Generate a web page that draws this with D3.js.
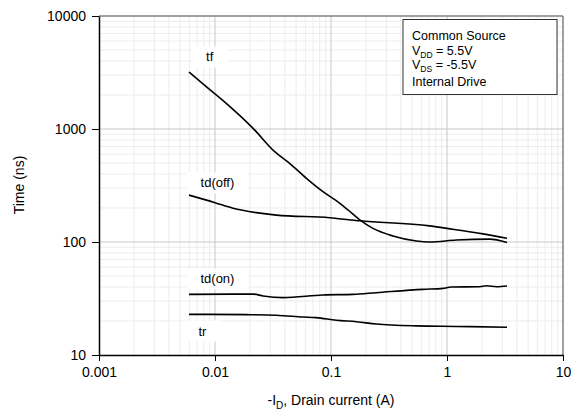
<!DOCTYPE html>
<html><head><meta charset="utf-8">
<script src="https://cdn.jsdelivr.net/npm/d3@7"></script>
<style>body{margin:0;background:#fff;}svg{display:block;font-family:"Liberation Sans",Arial,sans-serif;}</style>
</head><body>
<svg id="c" width="579" height="419"></svg>
<script>
const xTicks = [0.001, 0.01, 0.1, 1, 10];
const yTicks = [10, 100, 1000, 10000];
const xTickLabels = ["0.001", "0.01", "0.1", "1", "10"];
const yTickLabels = ["10", "100", "1000", "10000"];

const tfX = [0.00597, 0.0085, 0.0125, 0.0213, 0.0327, 0.044, 0.0614, 0.0853, 0.111, 0.14, 0.177, 0.23, 0.342, 0.545, 0.709, 1.2, 2.33, 3.29];
const tfY = [3194, 2350, 1688, 1014, 630, 497, 366, 279, 232, 192, 157, 132, 113, 102, 100, 104, 106, 99];
const tdoffX = [0.00597, 0.01, 0.0143, 0.0227, 0.0338, 0.0975, 0.177, 0.709, 1.0, 2.04, 3.29];
const tdoffY = [260, 223, 199, 182, 173, 164, 154, 139, 132, 118, 108];
const tdonX = [0.00597, 0.0213, 0.026, 0.0386, 0.0853, 0.155, 0.246, 0.621, 0.925, 1.09, 1.91, 2.19, 2.67, 3.29];
const tdonY = [34.4, 34.6, 33.3, 32.2, 34.0, 34.4, 35.6, 38.1, 38.9, 40.0, 40.2, 41.0, 40.2, 40.8];
const trX = [0.00597, 0.0187, 0.0338, 0.0574, 0.0746, 0.111, 0.166, 0.246, 0.545, 1.2, 3.29];
const trY = [22.9, 22.75, 22.5, 21.7, 21.4, 20.3, 19.7, 18.8, 18.1, 17.9, 17.6];

const seriesNames = ["tf", "td(off)", "td(on)", "tr"];
const labelAt = [[0.009, 4340], [0.0105, 333], [0.0105, 47.1], [0.0078, 16.3]];

const svg = d3.select("#c");
const L = 99, R = 563, T = 16, B = 355;
const x = d3.scaleLog().domain([0.001, 10]).range([L, R]);
const y = d3.scaleLog().domain([10, 10000]).range([B, T]);

// minor grid
const minorX = [], minorY = [];
for (let d = 0.001; d < 10; d *= 10) for (let k = 2; k <= 9; k++) minorX.push(d * k);
for (let d = 10; d < 10000; d *= 10) for (let k = 2; k <= 9; k++) minorY.push(d * k);
const g = svg.append("g");
g.selectAll(".mx").data(minorX).join("line").attr("x1", d => x(d)).attr("x2", d => x(d)).attr("y1", T).attr("y2", B).attr("stroke", "#ececec").attr("stroke-width", 1);
g.selectAll(".my").data(minorY).join("line").attr("y1", d => y(d)).attr("y2", d => y(d)).attr("x1", L).attr("x2", R).attr("stroke", "#ececec").attr("stroke-width", 1);
g.selectAll(".Mx").data(xTicks.slice(1, -1)).join("line").attr("x1", d => x(d)).attr("x2", d => x(d)).attr("y1", T).attr("y2", B).attr("stroke", "#c8c8c8").attr("stroke-width", 1);
g.selectAll(".My").data(yTicks.slice(1, -1)).join("line").attr("y1", d => y(d)).attr("y2", d => y(d)).attr("x1", L).attr("x2", R).attr("stroke", "#c8c8c8").attr("stroke-width", 1);

// frame top/right
svg.append("line").attr("x1", L).attr("x2", R).attr("y1", T).attr("y2", T).attr("stroke", "#808080").attr("stroke-width", 1.5);
svg.append("line").attr("x1", R).attr("x2", R).attr("y1", T).attr("y2", B).attr("stroke", "#808080").attr("stroke-width", 1.5);

// label backgrounds and texts
const boxLayer = svg.append("g");
const lineLayer = svg.append("g");
const textLayer = svg.append("g");
seriesNames.forEach((n, i) => {
  const cx = x(labelAt[i][0]), cy = y(labelAt[i][1]);
  const t = textLayer.append("text").attr("x", cx).attr("y", cy).attr("text-anchor", "middle").attr("dominant-baseline", "central").attr("font-size", 13).text(n);
  const bb = t.node().getBBox();
  boxLayer.append("rect").attr("x", bb.x - 14).attr("y", bb.y - 3).attr("width", bb.width + 28).attr("height", bb.height + 6).attr("fill", "#fff");
});

// axes
const xAxis = d3.axisBottom(x).tickValues(xTicks).tickFormat((d, i) => xTickLabels[i]).tickSize(6).tickSizeOuter(0);
const yAxis = d3.axisLeft(y).tickValues(yTicks).tickFormat((d, i) => yTickLabels[i]).tickSize(7).tickSizeOuter(0);
const gx = svg.append("g").attr("transform", `translate(0,${B})`).call(xAxis);
const gy = svg.append("g").attr("transform", `translate(${L},0)`).call(yAxis);
[gx, gy].forEach(a => {
  a.select(".domain").attr("stroke", "#000").attr("stroke-width", 1.5);
  a.selectAll(".tick line").attr("stroke", "#000").attr("stroke-width", 1);
  a.selectAll(".tick text").attr("font-size", 14).attr("fill", "#000").attr("font-family", "Liberation Sans, Arial, sans-serif");
});
gx.selectAll(".tick text").attr("dy", "0.71em").attr("y", 12);
gy.selectAll(".tick text").attr("x", -13);

// axis titles
svg.append("text").attr("transform", "translate(24,185) rotate(-90)").attr("text-anchor", "middle").attr("font-size", 14).text("Time (ns)");
const xt = svg.append("text").attr("x", 331).attr("y", 405).attr("text-anchor", "middle").attr("font-size", 14);
xt.append("tspan").text("-I");
xt.append("tspan").attr("font-size", 10).attr("dy", 4).text("D");
xt.append("tspan").attr("dy", -4).text(", Drain current (A)");

// series
const series = [[tfX, tfY], [tdoffX, tdoffY], [tdonX, tdonY], [trX, trY]];
const line = d3.line().x(d => x(d[0])).y(d => y(d[1])).curve(d3.curveMonotoneX);
series.forEach(([xs, ys]) => {
  lineLayer.append("path").datum(xs.map((v, i) => [v, ys[i]])).attr("d", line).attr("fill", "none").attr("stroke", "#000").attr("stroke-width", 1.6);
});

// info box
svg.append("rect").attr("x", 403).attr("y", 19.5).attr("width", 154).attr("height", 75).attr("fill", "#fff").attr("stroke", "#333").attr("stroke-width", 1);
const info = svg.append("g").attr("font-size", 12.5);
info.append("text").attr("x", 412).attr("y", 39.5).text("Common Source");
const v1 = info.append("text").attr("x", 412).attr("y", 55);
v1.append("tspan").text("V"); v1.append("tspan").attr("font-size", 8.5).attr("dy", 3).text("DD"); v1.append("tspan").attr("dy", -3).text(" = 5.5V");
const v2 = info.append("text").attr("x", 412).attr("y", 69);
v2.append("tspan").text("V"); v2.append("tspan").attr("font-size", 8.5).attr("dy", 3).text("DS"); v2.append("tspan").attr("dy", -3).text(" = -5.5V");
info.append("text").attr("x", 412).attr("y", 85.5).text("Internal Drive");
</script>
</body></html>
